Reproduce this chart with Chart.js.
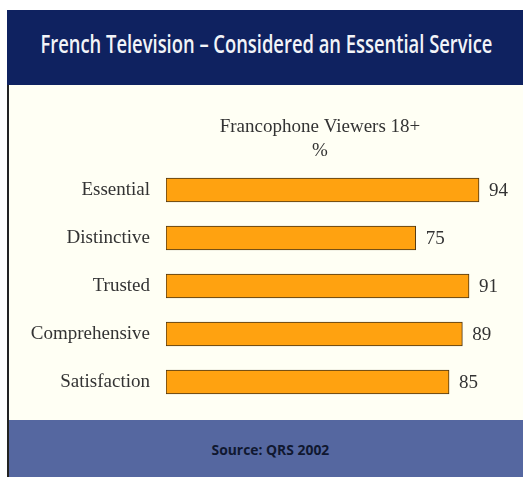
<!DOCTYPE html>
<html>
<head>
<meta charset="utf-8">
<script src="https://cdn.jsdelivr.net/npm/chart.js@4/dist/chart.umd.min.js"></script>
<style>
  body { margin: 0; background: #fff; width: 523px; height: 477px; overflow: hidden; position: relative; }
  .frame { position: absolute; left: 7px; top: 10px; width: 516px; height: 467px; background: #fffff4; border-left: 2px solid #222; box-sizing: border-box; }
  .head { position: absolute; left: 7px; top: 10px; width: 516px; height: 75px; background: #0f2260; }
  .head span, .foot span { position: absolute; white-space: nowrap; transform-origin: center center; }
  .head span { color: #f2f4f8; font: 600 25px "Open Sans", sans-serif; top: 16px; }
  .foot { position: absolute; left: 9px; top: 420px; width: 514px; height: 57px; background: #5567a0; }
  .foot span { color: #101830; font: 700 14px "Open Sans", sans-serif; top: 20px; }
  #myChart { position: absolute; left: 9px; top: 85px; }
</style>
</head>
<body>
<div class="frame"></div>
<div class="head"><span id="ttl">French Television – Considered an Essential Service</span></div>
<div class="foot"><span id="src">Source: QRS 2002</span></div>
<canvas id="myChart" width="514" height="335"></canvas>
<script>
const categories = ['Essential', 'Distinctive', 'Trusted', 'Comprehensive', 'Satisfaction'];
const viewers = [94, 75, 91, 89, 85];
const subtitle = ['Francophone Viewers 18+', '%'];

// squeeze the banner texts to the width of the original condensed face
function fit(id, width, center) {
  const el = document.getElementById(id);
  const w = el.offsetWidth;
  el.style.left = (center - w / 2) + 'px';
  el.style.transform = 'scaleX(' + (width / w) + ')';
}
fit('ttl', 452, 259);
fit('src', 118, 261);

const serif = '"Liberation Serif", "Times New Roman", serif';

const subtitlePlugin = {
  id: 'subtitleText',
  afterDraw(chart) {
    const ctx = chart.ctx;
    ctx.save();
    ctx.fillStyle = '#333';
    ctx.font = '19px ' + serif;
    ctx.textAlign = 'center';
    ctx.textBaseline = 'middle';
    subtitle.forEach((t, i) => ctx.fillText(t, 311, 42 + i * 24));
    ctx.restore();
  }
};

const valuePlugin = {
  id: 'valueLabels',
  afterDatasetsDraw(chart) {
    const ctx = chart.ctx;
    const meta = chart.getDatasetMeta(0);
    ctx.save();
    ctx.fillStyle = '#333';
    ctx.font = '19px ' + serif;
    ctx.textAlign = 'left';
    ctx.textBaseline = 'middle';
    meta.data.forEach((bar, i) => {
      ctx.fillText(viewers[i], bar.x + 10, bar.y + 1);
    });
    ctx.restore();
  }
};

let ctx = document.getElementById('myChart');
let myChart = new Chart(ctx, {
  type: 'bar',
  data: {
    labels: categories,
    datasets: [{
      data: viewers,
      backgroundColor: '#ffa210',
      borderColor: '#4a3414',
      borderWidth: 1,
      borderSkipped: false,
      barThickness: 24
    }]
  },
  options: {
    indexAxis: 'y',
    responsive: false,
    animation: false,
    layout: {
      padding: { top: 81, bottom: 14, left: 0, right: 24 }
    },
    plugins: {
      legend: { display: false },
      tooltip: { enabled: false },
      title: { display: false }
    },
    scales: {
      x: {
        display: false,
        min: 0,
        max: 100
      },
      y: {
        afterFit(scale) {
          scale.width = 157;
          scale.paddingTop = 0;
          scale.paddingBottom = 0;
        },
        grid: { display: false, drawTicks: false },
        border: { display: false },
        ticks: {
          padding: 16,
          color: '#333',
          font: { family: serif, size: 19 }
        }
      }
    }
  },
  plugins: [subtitlePlugin, valuePlugin]
});
</script>
</body>
</html>
